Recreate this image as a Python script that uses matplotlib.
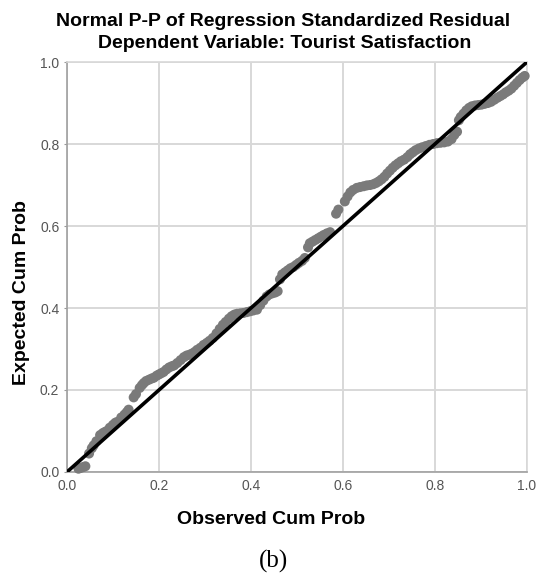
import matplotlib
matplotlib.use("Agg")
import matplotlib.pyplot as plt

# observed / expected cumulative probabilities
obs = [0.025, 0.030, 0.035, 0.040, 0.048, 0.054, 0.058, 0.064, 0.072, 0.078,
       0.083, 0.087, 0.093, 0.100, 0.105, 0.109, 0.118, 0.125, 0.130, 0.134,
       0.145, 0.150, 0.158, 0.163, 0.167, 0.172, 0.178, 0.184, 0.189, 0.195,
       0.200, 0.205, 0.210, 0.216, 0.222, 0.228, 0.233, 0.240, 0.247, 0.254,
       0.260, 0.266, 0.272, 0.278, 0.283, 0.290, 0.297, 0.304, 0.310, 0.317,
       0.325, 0.332, 0.339, 0.345, 0.352, 0.358, 0.364, 0.370, 0.377, 0.384,
       0.391, 0.398, 0.405, 0.413, 0.420, 0.427, 0.434, 0.440, 0.447, 0.453,
       0.458, 0.463, 0.468, 0.474, 0.480, 0.486, 0.492, 0.498, 0.504, 0.511,
       0.517, 0.524, 0.528, 0.534, 0.540, 0.546, 0.552, 0.558, 0.565, 0.572,
       0.585, 0.590, 0.604, 0.610, 0.616, 0.622, 0.630, 0.637, 0.645, 0.652,
       0.659, 0.666, 0.672, 0.678, 0.684, 0.690, 0.696, 0.702, 0.708, 0.714,
       0.720, 0.726, 0.733, 0.740, 0.746, 0.752, 0.758, 0.765, 0.772, 0.780,
       0.788, 0.796, 0.804, 0.812, 0.820, 0.828, 0.836, 0.842, 0.848, 0.852,
       0.856, 0.862, 0.868, 0.874, 0.880, 0.887, 0.894, 0.901, 0.908, 0.915,
       0.922, 0.929, 0.936, 0.942, 0.948, 0.954, 0.960, 0.966, 0.972, 0.978,
       0.984, 0.990, 0.995]
exp = [0.008, 0.010, 0.012, 0.014, 0.045, 0.058, 0.065, 0.075, 0.090, 0.095,
       0.098, 0.100, 0.108, 0.115, 0.120, 0.122, 0.133, 0.140, 0.146, 0.152,
       0.182, 0.190, 0.205, 0.212, 0.217, 0.222, 0.225, 0.228, 0.230, 0.235,
       0.238, 0.241, 0.244, 0.250, 0.255, 0.258, 0.260, 0.266, 0.273, 0.280,
       0.284, 0.286, 0.289, 0.293, 0.298, 0.303, 0.310, 0.315, 0.320, 0.327,
       0.338, 0.349, 0.359, 0.366, 0.374, 0.380, 0.384, 0.386, 0.387, 0.388,
       0.390, 0.392, 0.394, 0.396, 0.407, 0.418, 0.428, 0.433, 0.436, 0.438,
       0.441, 0.470, 0.482, 0.487, 0.492, 0.497, 0.500, 0.505, 0.510, 0.515,
       0.522, 0.548, 0.558, 0.562, 0.566, 0.570, 0.574, 0.578, 0.582, 0.585,
       0.630, 0.640, 0.660, 0.672, 0.682, 0.688, 0.693, 0.695, 0.697, 0.699,
       0.700, 0.702, 0.705, 0.709, 0.714, 0.720, 0.728, 0.735, 0.742, 0.748,
       0.753, 0.758, 0.762, 0.768, 0.775, 0.780, 0.785, 0.789, 0.792, 0.795,
       0.798, 0.800, 0.802, 0.803, 0.804, 0.806, 0.812, 0.822, 0.830, 0.858,
       0.866, 0.874, 0.882, 0.888, 0.892, 0.894, 0.895, 0.896, 0.898, 0.900,
       0.903, 0.908, 0.913, 0.917, 0.921, 0.926, 0.930, 0.935, 0.942, 0.949,
       0.956, 0.962, 0.966]
ref_line = [0.0, 1.0]
ticks = [0.0, 0.2, 0.4, 0.6, 0.8, 1.0]

plt.rcParams['font.family'] = ['Liberation Sans', 'DejaVu Sans']

fig = plt.figure(figsize=(5.38, 5.78), dpi=100)
ax = fig.add_axes([0.1245, 0.1834, 0.855, 0.7093])

ax.scatter(obs, exp, s=52, c='#7a7a7a', edgecolors='none', zorder=3, clip_on=False)
ax.plot(ref_line, ref_line, color='black', lw=2.6, zorder=4, solid_capstyle='butt')

ax.set_xlim(0, 1)
ax.set_ylim(0, 1)
ax.set_xticks(ticks)
ax.set_yticks(ticks)
ax.set_xticklabels(['%.1f' % t for t in ticks])
ax.set_yticklabels(['%.1f' % t for t in ticks])
ax.grid(True, color='#d8d8d8', lw=1.4, zorder=0)
ax.set_axisbelow(True)
ax.tick_params(axis='both', labelsize=10, labelcolor='#555555', color='#999999', length=2.5, width=0.8)
ax.tick_params(axis='y', pad=3)
ax.tick_params(axis='x', length=0, pad=5)
for side in ['top', 'right']:
    ax.spines[side].set_color('#d8d8d8')
    ax.spines[side].set_linewidth(1.2)
for side in ['left', 'bottom']:
    ax.spines[side].set_color('#a0a0a0')
    ax.spines[side].set_linewidth(1.2)

fig.text(283 / 538, 1 - 21 / 578, 'Normal P-P of Regression Standardized Residual',
         ha='center', va='center', fontsize=14, fontweight='bold')
fig.text(285 / 538, 1 - 43 / 578, 'Dependent Variable: Tourist Satisfaction',
         ha='center', va='center', fontsize=14, fontweight='bold')
fig.text(271 / 538, 1 - 519 / 578, 'Observed Cum Prob', ha='center', va='center',
         fontsize=14, fontweight='bold')
fig.text(22 / 538, 1 - 293 / 578, 'Expected Cum Prob', ha='center', va='center',
         fontsize=14, fontweight='bold', rotation=90)
fig.text(273 / 538, 1 - 561 / 578, '(b)', ha='center', va='center',
         fontsize=18, family='Liberation Serif')

fig.savefig('out.png', dpi=100)
